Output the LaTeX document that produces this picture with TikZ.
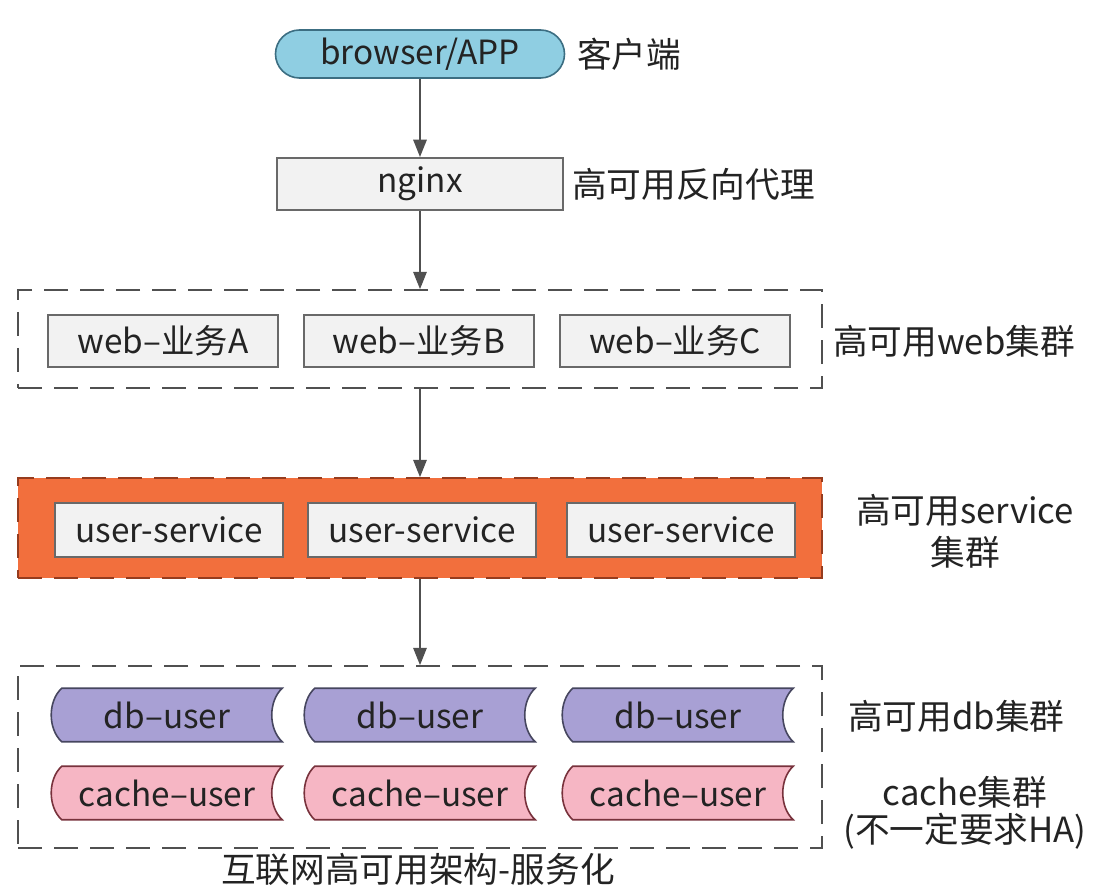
\documentclass[tikz,border=0pt]{standalone}
\usepackage{fontspec}
\setmainfont{Noto Sans CJK SC}
\usepackage{tikz}
\usepackage{xcolor}
\usetikzlibrary{arrows.meta,backgrounds,calc}

\definecolor{clientblue}{RGB}{143,206,226}
\definecolor{clientedge}{RGB}{60,110,130}
\definecolor{boxgray}{RGB}{242,242,242}
\definecolor{boxedge}{RGB}{105,105,105}
\definecolor{linegray}{RGB}{80,80,80}
\definecolor{serviceorange}{RGB}{242,111,61}
\definecolor{serviceedge}{RGB}{150,60,30}
\definecolor{dbpurple}{RGB}{168,160,212}
\definecolor{dbedge}{RGB}{70,70,95}
\definecolor{cachepink}{RGB}{246,182,196}
\definecolor{cacheedge}{RGB}{120,50,60}
\definecolor{txtdark}{RGB}{35,35,35}

\begin{document}
\begin{tikzpicture}[x=0.75pt,y=0.75pt,yscale=-1,xscale=1,
        font=\fontsize{25}{30}\selectfont, text=txtdark,
        flow/.style={draw=linegray, line width=1.5pt, -{Triangle[length=13pt,width=10pt]}},
        cluster/.style={draw=linegray, dash pattern=on 18pt off 9pt, line width=1.2pt, minimum width=603pt, inner sep=0pt},
        box/.style={draw=boxedge, line width=1.5pt, fill=boxgray, minimum width=172.5pt, minimum height=39pt, inner sep=0pt},
        stored/.style={minimum width=172.5pt, minimum height=39.75pt, inner sep=0pt},
        lbl/.style={inner sep=0pt, font=\fontsize{26}{31.5}\selectfont, align=center}]
        \path[use as bounding box] (0,0) rectangle (1107,891);

        % Client
        \node [draw=clientedge, line width=1.2pt, fill=clientblue, rounded corners=18pt, minimum width=216.75pt, minimum height=36pt, inner sep=0pt] (browser) at (420,54) {browser/APP};
        \node [lbl, anchor=west] (lclient) at (577,54) {客户端};

        % Proxy
        \node [box, minimum width=215pt] (nginx) at (420,184) {nginx};
        \node [lbl, anchor=west] (lnginx) at (572,184) {高可用反向代理};

        % Web cluster
        \node [cluster, minimum height=73.5pt] (webc) at (420,339) {};
        \node [box] (webA) at (163,341) {web–业务A};
        \node [box] (webB) at (419,341) {web–业务B};
        \node [box] (webC) at (675,341) {web–业务C};
        \node [lbl, anchor=west] (lweb) at (833,341) {高可用web集群};

        % Service cluster
        \node [cluster, draw=serviceedge, fill=serviceorange, minimum height=75pt] (svcc) at (420,528) {};
        \node [box, minimum width=171pt, minimum height=40.5pt] (svc1) at (169,530) {user-service};
        \node [box, minimum width=171pt, minimum height=40.5pt] (svc2) at (422,530) {user-service};
        \node [box, minimum width=171pt, minimum height=40.5pt] (svc3) at (681,530) {user-service};
        \node [lbl] (lsvc) at (965,531) {高可用service\\集群};

        % DB and cache cluster
        \node [cluster, minimum height=136.5pt] (dbc) at (420,757) {};
        \node [stored] (db1) at (167,715) {db–user};
        \node [stored] (db2) at (420,715) {db–user};
        \node [stored] (db3) at (678,715) {db–user};
        \node [stored] (ca1) at (167,793) {cache–user};
        \node [stored] (ca2) at (420,793) {cache–user};
        \node [stored] (ca3) at (678,793) {cache–user};
        \node [lbl, anchor=west] (ldb) at (848,716) {高可用db集群};
        \node [lbl, font=\fontsize{26}{28}\selectfont] (lcache) at (965,813) {cache集群\\(不一定要求HA)};

        % Title
        \node [lbl] (title) at (418,869) {互联网高可用架构-服务化};

        % Stored data shapes
        \begin{scope}[on background layer]
        \fill[white] (0,0) rectangle (1107,891);
        \foreach \n/\c/\e in {db1/dbpurple/dbedge,db2/dbpurple/dbedge,db3/dbpurple/dbedge,ca1/cachepink/cacheedge,ca2/cachepink/cacheedge,ca3/cachepink/cacheedge}
          \filldraw[fill=\c, draw=\e, line width=1.2pt] ($(\n.north west)+(10,0)$) -- (\n.north east) .. controls ($(\n.east)+(-14,-14)$) and ($(\n.east)+(-14,14)$) .. (\n.south east) -- ($(\n.south west)+(10,0)$) .. controls ($(\n.west)+(-4,14)$) and ($(\n.west)+(-4,-14)$) .. cycle;
        \end{scope}

        % Arrows
        \draw [flow] (browser) -- (nginx);
        \draw [flow] (nginx) -- (webc);
        \draw [flow] (webc) -- (svcc);
        \draw [flow] (svcc) -- (dbc);

\end{tikzpicture}
\end{document}
